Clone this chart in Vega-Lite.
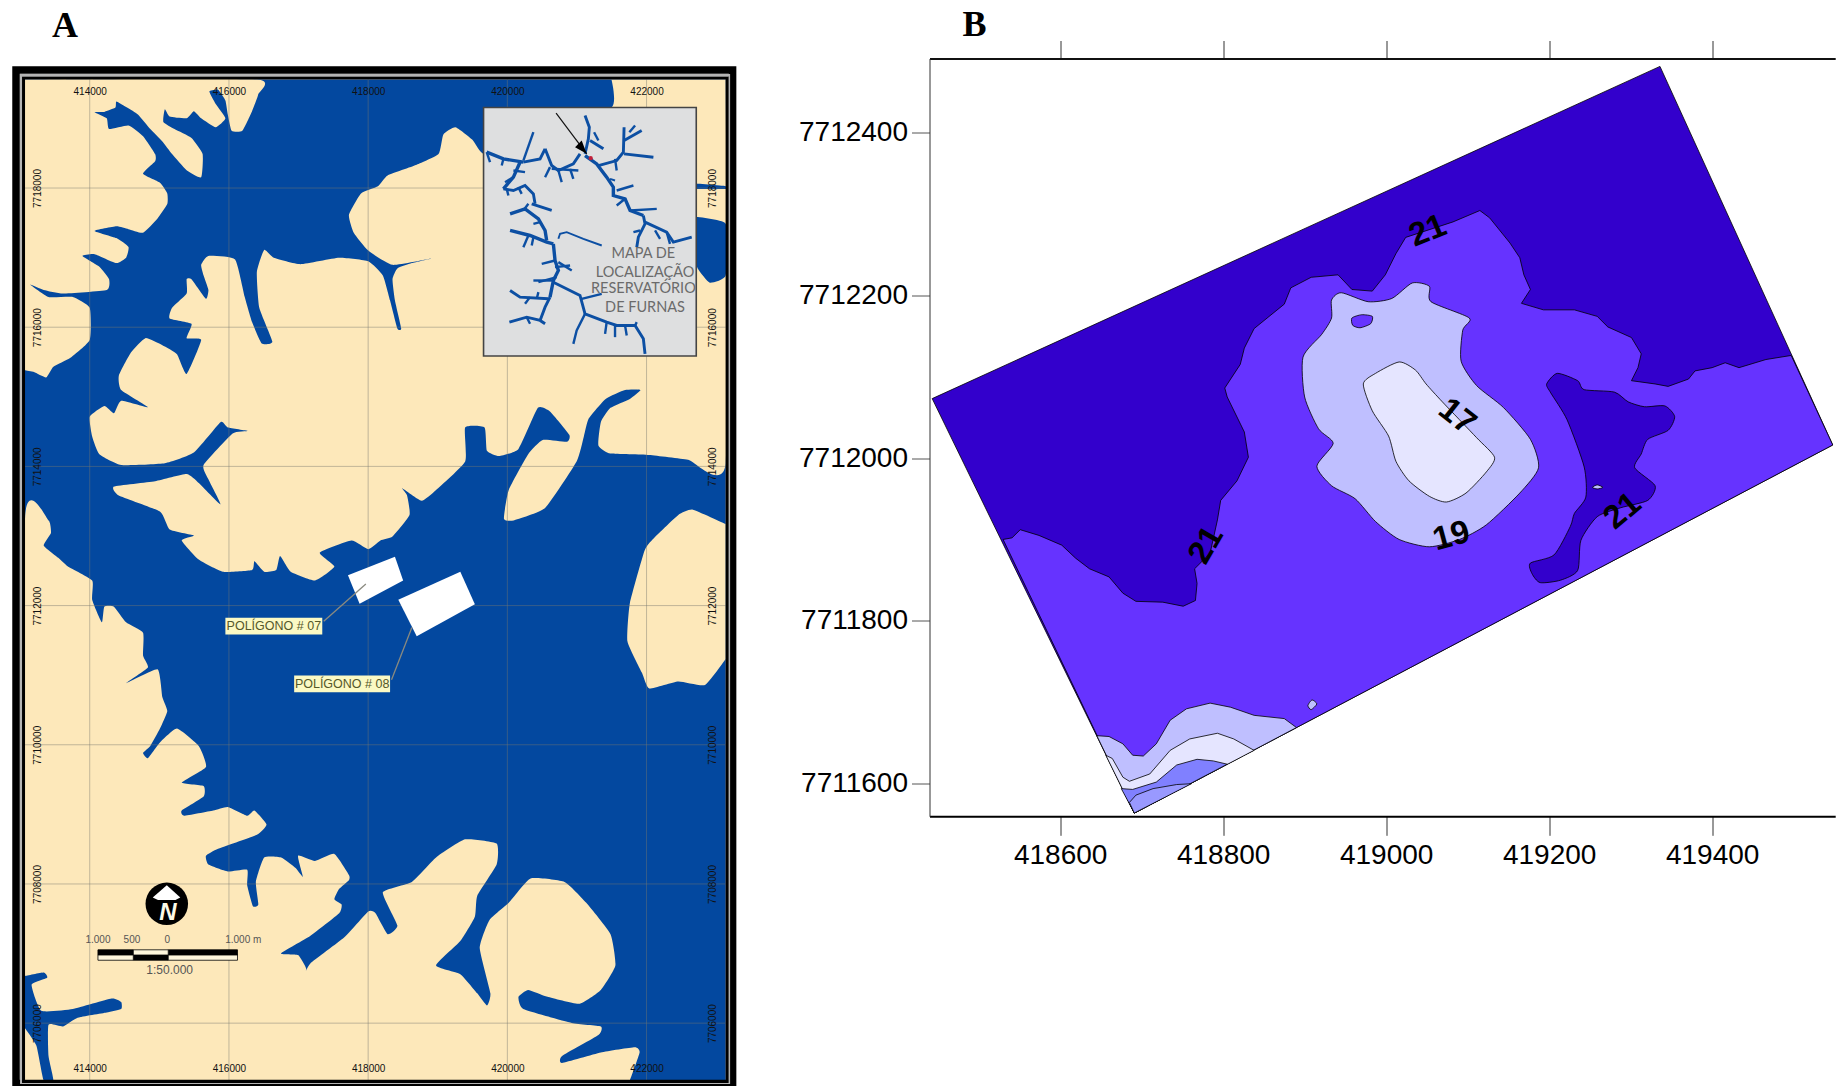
{
"$schema":"https://vega.github.io/schema/vega-lite/v6.json",
"padding":{"left":12,"top":6.5,"right":0,"bottom":0},
"background":"white",
"spacing":60.5,
"align":"none",
"resolve":{"scale":{"fill":"independent"}},
"config":{"view":{"stroke":null},"font":"Liberation Sans"},
"datasets":{
"landA":[
{"p":"L1","x":413070,"y":7719559},{"p":"L1","x":416401,"y":7719559},{"p":"L1","x":416422,"y":7719351},{"p":"L1","x":416332,"y":7719104},{"p":"L1","x":416192,"y":7718822},{"p":"L1","x":416039,"y":7718822},{"p":"L1","x":415984,"y":7719053},{"p":"L1","x":415949,"y":7719258},{"p":"L1","x":415844,"y":7719412},{"p":"L1","x":415719,"y":7719387},{"p":"L1","x":415810,"y":7719207},{"p":"L1","x":415949,"y":7719002},{"p":"L1","x":415810,"y":7718873},{"p":"L1","x":415601,"y":7719002},{"p":"L1","x":415496,"y":7719104},{"p":"L1","x":415392,"y":7719002},{"p":"L1","x":415148,"y":7719027},{"p":"L1","x":415079,"y":7719130},{"p":"L1","x":415058,"y":7718950},{"p":"L1","x":415218,"y":7718847},{"p":"L1","x":415462,"y":7718719},{"p":"L1","x":415622,"y":7718488},{"p":"L1","x":415601,"y":7718154},{"p":"L1","x":415392,"y":7718257},{"p":"L1","x":415183,"y":7718488},{"p":"L1","x":415044,"y":7718668},{"p":"L1","x":414870,"y":7718847},{"p":"L1","x":414696,"y":7719053},{"p":"L1","x":414536,"y":7719156},{"p":"L1","x":414383,"y":7719243},{"p":"L1","x":414369,"y":7719156},{"p":"L1","x":414209,"y":7719094},{"p":"L1","x":414070,"y":7719089},{"p":"L1","x":414244,"y":7719002},{"p":"L1","x":414278,"y":7718847},{"p":"L1","x":414557,"y":7718899},{"p":"L1","x":414766,"y":7718745},{"p":"L1","x":414940,"y":7718488},{"p":"L1","x":414940,"y":7718385},{"p":"L1","x":414766,"y":7718205},{"p":"L1","x":415009,"y":7718077},{"p":"L1","x":415114,"y":7717923},{"p":"L1","x":415114,"y":7717769},{"p":"L1","x":414974,"y":7717563},{"p":"L1","x":414766,"y":7717358},{"p":"L1","x":414557,"y":7717409},{"p":"L1","x":414383,"y":7717450},{"p":"L1","x":414070,"y":7717384},{"p":"L1","x":414383,"y":7717281},{"p":"L1","x":414557,"y":7717153},{"p":"L1","x":414522,"y":7716998},{"p":"L1","x":414383,"y":7716921},{"p":"L1","x":414070,"y":7717050},{"p":"L1","x":413896,"y":7717024},{"p":"L1","x":414139,"y":7716870},{"p":"L1","x":414278,"y":7716690},{"p":"L1","x":414244,"y":7716536},{"p":"L1","x":413617,"y":7716485},{"p":"L1","x":413339,"y":7716536},{"p":"L1","x":413144,"y":7716613},{"p":"L1","x":413408,"y":7716434},{"p":"L1","x":413756,"y":7716434},{"p":"L1","x":414000,"y":7716279},{"p":"L1","x":414000,"y":7715817},{"p":"L1","x":413722,"y":7715560},{"p":"L1","x":413478,"y":7715432},{"p":"L1","x":413374,"y":7715278},{"p":"L1","x":413200,"y":7715355},{"p":"L1","x":413070,"y":7715381},
{"p":"L2","x":423137,"y":7719559},{"p":"L2","x":423137,"y":7714045},{"p":"L2","x":422596,"y":7714097},{"p":"L2","x":422039,"y":7714163},{"p":"L2","x":421482,"y":7714184},{"p":"L2","x":421308,"y":7714302},{"p":"L2","x":421343,"y":7714636},{"p":"L2","x":421482,"y":7714841},{"p":"L2","x":421760,"y":7714970},{"p":"L2","x":421914,"y":7715098},{"p":"L2","x":421691,"y":7715098},{"p":"L2","x":421412,"y":7714970},{"p":"L2","x":421169,"y":7714687},{"p":"L2","x":421099,"y":7714430},{"p":"L2","x":420995,"y":7714071},{"p":"L2","x":420542,"y":7713403},{"p":"L2","x":420090,"y":7713224},{"p":"L2","x":419951,"y":7713249},{"p":"L2","x":420020,"y":7713660},{"p":"L2","x":420299,"y":7714174},{"p":"L2","x":420508,"y":7714379},{"p":"L2","x":420856,"y":7714353},{"p":"L2","x":420890,"y":7714456},{"p":"L2","x":420612,"y":7714790},{"p":"L2","x":420438,"y":7714841},{"p":"L2","x":420160,"y":7714251},{"p":"L2","x":419881,"y":7714148},{"p":"L2","x":419707,"y":7714225},{"p":"L2","x":419672,"y":7714559},{"p":"L2","x":419394,"y":7714559},{"p":"L2","x":419394,"y":7714071},{"p":"L2","x":418976,"y":7713660},{"p":"L2","x":418768,"y":7713506},{"p":"L2","x":418489,"y":7713686},{"p":"L2","x":418559,"y":7713583},{"p":"L2","x":418594,"y":7713301},{"p":"L2","x":418350,"y":7712992},{"p":"L2","x":418176,"y":7712936},{"p":"L2","x":418002,"y":7712811},{"p":"L2","x":417758,"y":7712936},{"p":"L2","x":417306,"y":7712761},{"p":"L2","x":417515,"y":7712561},{"p":"L2","x":417236,"y":7712360},{"p":"L2","x":416888,"y":7712486},{"p":"L2","x":416735,"y":7712711},{"p":"L2","x":416680,"y":7712511},{"p":"L2","x":416506,"y":7712486},{"p":"L2","x":416366,"y":7712636},{"p":"L2","x":416332,"y":7712511},{"p":"L2","x":415914,"y":7712486},{"p":"L2","x":415566,"y":7712661},{"p":"L2","x":415322,"y":7712936},{"p":"L2","x":415496,"y":7713008},{"p":"L2","x":415148,"y":7713095},{"p":"L2","x":415009,"y":7713352},{"p":"L2","x":414418,"y":7713583},{"p":"L2","x":414348,"y":7713711},{"p":"L2","x":414940,"y":7713788},{"p":"L2","x":415392,"y":7713891},{"p":"L2","x":415566,"y":7713763},{"p":"L2","x":415879,"y":7713455},{"p":"L2","x":415705,"y":7713814},{"p":"L2","x":415636,"y":7714020},{"p":"L2","x":416053,"y":7714472},{"p":"L2","x":416276,"y":7714508},{"p":"L2","x":415984,"y":7714559},{"p":"L2","x":415879,"y":7714636},{"p":"L2","x":415496,"y":7714199},{"p":"L2","x":415079,"y":7714045},{"p":"L2","x":414452,"y":7714020},{"p":"L2","x":414139,"y":7714174},{"p":"L2","x":414035,"y":7714430},{"p":"L2","x":414000,"y":7714713},{"p":"L2","x":414209,"y":7714867},{"p":"L2","x":414348,"y":7714764},{"p":"L2","x":414452,"y":7714944},{"p":"L2","x":414835,"y":7714852},{"p":"L2","x":414452,"y":7715098},{"p":"L2","x":414418,"y":7715304},{"p":"L2","x":414592,"y":7715637},{"p":"L2","x":414800,"y":7715843},{"p":"L2","x":415044,"y":7715740},{"p":"L2","x":415253,"y":7715612},{"p":"L2","x":415392,"y":7715329},{"p":"L2","x":415601,"y":7715817},{"p":"L2","x":415392,"y":7715843},{"p":"L2","x":415462,"y":7716048},{"p":"L2","x":415148,"y":7716125},{"p":"L2","x":415183,"y":7716279},{"p":"L2","x":415392,"y":7716485},{"p":"L2","x":415392,"y":7716690},{"p":"L2","x":415462,"y":7716690},{"p":"L2","x":415670,"y":7716408},{"p":"L2","x":415705,"y":7716536},{"p":"L2","x":415636,"y":7716742},{"p":"L2","x":415601,"y":7716896},{"p":"L2","x":415705,"y":7717024},{"p":"L2","x":416088,"y":7716973},{"p":"L2","x":416227,"y":7716434},{"p":"L2","x":416332,"y":7716074},{"p":"L2","x":416471,"y":7715766},{"p":"L2","x":416624,"y":7715792},{"p":"L2","x":416436,"y":7716279},{"p":"L2","x":416401,"y":7716793},{"p":"L2","x":416506,"y":7717111},{"p":"L2","x":416645,"y":7716998},{"p":"L2","x":417028,"y":7716906},{"p":"L2","x":417584,"y":7716998},{"p":"L2","x":418002,"y":7716947},{"p":"L2","x":418211,"y":7716742},{"p":"L2","x":418315,"y":7716382},{"p":"L2","x":418420,"y":7715982},{"p":"L2","x":418475,"y":7715982},{"p":"L2","x":418385,"y":7716382},{"p":"L2","x":418350,"y":7716690},{"p":"L2","x":418420,"y":7716844},{"p":"L2","x":418628,"y":7716921},{"p":"L2","x":418907,"y":7716988},{"p":"L2","x":418350,"y":7716896},{"p":"L2","x":418002,"y":7717101},{"p":"L2","x":417793,"y":7717358},{"p":"L2","x":417724,"y":7717615},{"p":"L2","x":417898,"y":7717923},{"p":"L2","x":418141,"y":7718026},{"p":"L2","x":418280,"y":7718180},{"p":"L2","x":418698,"y":7718334},{"p":"L2","x":419011,"y":7718488},{"p":"L2","x":419081,"y":7718770},{"p":"L2","x":419255,"y":7718873},{"p":"L2","x":419498,"y":7718693},{"p":"L2","x":419672,"y":7718488},{"p":"L2","x":420368,"y":7718642},{"p":"L2","x":421496,"y":7719156},{"p":"L2","x":421496,"y":7719559},
{"p":"L3","x":413070,"y":7705176},{"p":"L3","x":413070,"y":7713249},{"p":"L3","x":413408,"y":7713224},{"p":"L3","x":413443,"y":7713044},{"p":"L3","x":413339,"y":7712864},{"p":"L3","x":413548,"y":7712686},{"p":"L3","x":413687,"y":7712561},{"p":"L3","x":414035,"y":7712360},{"p":"L3","x":414035,"y":7712085},{"p":"L3","x":414174,"y":7711760},{"p":"L3","x":414209,"y":7711985},{"p":"L3","x":414348,"y":7711985},{"p":"L3","x":414522,"y":7711760},{"p":"L3","x":414766,"y":7711610},{"p":"L3","x":414766,"y":7711284},{"p":"L3","x":414835,"y":7711109},{"p":"L3","x":414522,"y":7710884},{"p":"L3","x":414974,"y":7711084},{"p":"L3","x":415044,"y":7710683},{"p":"L3","x":415114,"y":7710483},{"p":"L3","x":415009,"y":7710233},{"p":"L3","x":414870,"y":7709983},{"p":"L3","x":414766,"y":7709882},{"p":"L3","x":414835,"y":7709807},{"p":"L3","x":415009,"y":7710033},{"p":"L3","x":415253,"y":7710233},{"p":"L3","x":415566,"y":7709983},{"p":"L3","x":415670,"y":7709682},{"p":"L3","x":415322,"y":7709457},{"p":"L3","x":415636,"y":7709407},{"p":"L3","x":415636,"y":7709257},{"p":"L3","x":415322,"y":7709056},{"p":"L3","x":415357,"y":7708981},{"p":"L3","x":415775,"y":7709056},{"p":"L3","x":415984,"y":7709107},{"p":"L3","x":416262,"y":7708981},{"p":"L3","x":416366,"y":7709056},{"p":"L3","x":416540,"y":7708856},{"p":"L3","x":416401,"y":7708706},{"p":"L3","x":415844,"y":7708506},{"p":"L3","x":415670,"y":7708406},{"p":"L3","x":415705,"y":7708280},{"p":"L3","x":415984,"y":7708180},{"p":"L3","x":416262,"y":7708205},{"p":"L3","x":416262,"y":7707980},{"p":"L3","x":416345,"y":7707680},{"p":"L3","x":416422,"y":7707705},{"p":"L3","x":416387,"y":7708030},{"p":"L3","x":416506,"y":7708381},{"p":"L3","x":416749,"y":7708381},{"p":"L3","x":416958,"y":7708230},{"p":"L3","x":417062,"y":7708105},{"p":"L3","x":416993,"y":7708406},{"p":"L3","x":417236,"y":7708331},{"p":"L3","x":417515,"y":7708431},{"p":"L3","x":417724,"y":7708130},{"p":"L3","x":417724,"y":7708055},{"p":"L3","x":417584,"y":7707930},{"p":"L3","x":417515,"y":7707780},{"p":"L3","x":417619,"y":7707705},{"p":"L3","x":417584,"y":7707580},{"p":"L3","x":417167,"y":7707254},{"p":"L3","x":416749,"y":7707004},{"p":"L3","x":416993,"y":7706979},{"p":"L3","x":417111,"y":7706779},{"p":"L3","x":417042,"y":7706604},{"p":"L3","x":417167,"y":7706854},{"p":"L3","x":417654,"y":7707229},{"p":"L3","x":418002,"y":7707605},{"p":"L3","x":418106,"y":7707580},{"p":"L3","x":418280,"y":7707279},{"p":"L3","x":418420,"y":7707404},{"p":"L3","x":418211,"y":7707880},{"p":"L3","x":418628,"y":7708030},{"p":"L3","x":418976,"y":7708381},{"p":"L3","x":419394,"y":7708641},{"p":"L3","x":419846,"y":7708581},{"p":"L3","x":419846,"y":7708280},{"p":"L3","x":419568,"y":7707830},{"p":"L3","x":419533,"y":7707530},{"p":"L3","x":419324,"y":7707179},{"p":"L3","x":418976,"y":7706829},{"p":"L3","x":419324,"y":7706704},{"p":"L3","x":419568,"y":7706428},{"p":"L3","x":419707,"y":7706253},{"p":"L3","x":419756,"y":7706428},{"p":"L3","x":419603,"y":7707079},{"p":"L3","x":419742,"y":7707480},{"p":"L3","x":420020,"y":7707730},{"p":"L3","x":420334,"y":7708080},{"p":"L3","x":420821,"y":7708030},{"p":"L3","x":421134,"y":7707730},{"p":"L3","x":421482,"y":7707279},{"p":"L3","x":421552,"y":7706829},{"p":"L3","x":421343,"y":7706478},{"p":"L3","x":421030,"y":7706278},{"p":"L3","x":420577,"y":7706378},{"p":"L3","x":420299,"y":7706478},{"p":"L3","x":420160,"y":7706378},{"p":"L3","x":420229,"y":7706203},{"p":"L3","x":420925,"y":7706003},{"p":"L3","x":421343,"y":7705953},{"p":"L3","x":421308,"y":7705828},{"p":"L3","x":420786,"y":7705527},{"p":"L3","x":420786,"y":7705427},{"p":"L3","x":421343,"y":7705577},{"p":"L3","x":421830,"y":7705652},{"p":"L3","x":421900,"y":7705577},{"p":"L3","x":421760,"y":7705176},
{"p":"L4","x":423137,"y":7711234},{"p":"L4","x":422839,"y":7710859},{"p":"L4","x":422456,"y":7710909},{"p":"L4","x":422039,"y":7710809},{"p":"L4","x":421934,"y":7711034},{"p":"L4","x":421726,"y":7711484},{"p":"L4","x":421760,"y":7712035},{"p":"L4","x":421969,"y":7712786},{"p":"L4","x":422074,"y":7712936},{"p":"L4","x":422456,"y":7713301},{"p":"L4","x":422665,"y":7713378},{"p":"L4","x":423137,"y":7713172},
{"p":"W1","x":422665,"y":7717589},{"p":"W1","x":423137,"y":7717486},{"p":"W1","x":423137,"y":7716742},{"p":"W1","x":422909,"y":7716639},{"p":"W1","x":422735,"y":7716844},{"p":"W1","x":422665,"y":7717101},
{"p":"W2","x":422665,"y":7718067},{"p":"W2","x":423137,"y":7718026},{"p":"W2","x":423137,"y":7717985},{"p":"W2","x":422665,"y":7717985},
{"p":"W3","x":413070,"y":7706679},{"p":"W3","x":413339,"y":7706729},{"p":"W3","x":413388,"y":7706654},{"p":"W3","x":413165,"y":7706553},{"p":"W3","x":413304,"y":7706178},{"p":"W3","x":413756,"y":7706203},{"p":"W3","x":414313,"y":7706353},{"p":"W3","x":414452,"y":7706303},{"p":"W3","x":414452,"y":7706203},{"p":"W3","x":414244,"y":7706153},{"p":"W3","x":413826,"y":7706078},{"p":"W3","x":413617,"y":7705953},{"p":"W3","x":413408,"y":7705978},{"p":"W3","x":413408,"y":7705527},{"p":"W3","x":413478,"y":7705176},{"p":"W3","x":413339,"y":7705176},{"p":"W3","x":413234,"y":7705677},{"p":"W3","x":413070,"y":7705928}
],
"whiteA":[
{"p":"P7","x":417710,"y":7712436},{"p":"P7","x":418385,"y":7712701},{"p":"P7","x":418503,"y":7712360},{"p":"P7","x":417877,"y":7712025},
{"p":"P8","x":418433,"y":7712085},{"p":"P8","x":419324,"y":7712486},{"p":"P8","x":419533,"y":7712020},{"p":"P8","x":418698,"y":7711559}
],
"rivers":[
{"r":"r1","k":"a","x":421116,"y":7718467},{"r":"r1","k":"a","x":421284,"y":7718347},{"r":"r1","k":"a","x":421427,"y":7718156},{"r":"r1","k":"a","x":421523,"y":7718012},{"r":"r1","k":"a","x":421523,"y":7717892},{"r":"r1","k":"a","x":421691,"y":7717845},{"r":"r1","k":"a","x":421763,"y":7717677},{"r":"r1","k":"a","x":421954,"y":7717605},
{"r":"r2","k":"b","x":421116,"y":7719042},{"r":"r2","k":"b","x":421178,"y":7718874},{"r":"r2","k":"b","x":421164,"y":7718707},{"r":"r2","k":"b","x":421116,"y":7718491},
{"r":"r3","k":"b","x":421188,"y":7718683},{"r":"r3","k":"b","x":421380,"y":7718563},
{"r":"r4","k":"b","x":421308,"y":7718323},{"r":"r4","k":"b","x":421571,"y":7718395},{"r":"r4","k":"b","x":421667,"y":7718515},{"r":"r4","k":"b","x":421677,"y":7718874},
{"r":"r5","k":"b","x":421677,"y":7718683},{"r":"r5","k":"b","x":421930,"y":7718826},
{"r":"r6","k":"b","x":421677,"y":7718491},{"r":"r6","k":"b","x":422098,"y":7718443},
{"r":"r7","k":"b","x":421954,"y":7717605},{"r":"r7","k":"b","x":421978,"y":7717485},{"r":"r7","k":"b","x":421882,"y":7717294},{"r":"r7","k":"b","x":421859,"y":7717150},
{"r":"r8","k":"b","x":421978,"y":7717509},{"r":"r8","k":"b","x":422289,"y":7717366},{"r":"r8","k":"b","x":422385,"y":7717222},{"r":"r8","k":"b","x":422649,"y":7717294},
{"r":"r9","k":"c","x":421571,"y":7717964},{"r":"r9","k":"c","x":421811,"y":7718036},
{"r":"r10","k":"c","x":421763,"y":7717677},{"r":"r10","k":"c","x":422146,"y":7717701},
{"r":"r11","k":"a","x":419703,"y":7718515},{"r":"r11","k":"a","x":419943,"y":7718419},{"r":"r11","k":"a","x":420230,"y":7718371},
{"r":"r12","k":"b","x":420230,"y":7718371},{"r":"r12","k":"b","x":420470,"y":7718419},{"r":"r12","k":"b","x":420542,"y":7718563},
{"r":"r13","k":"a","x":420182,"y":7718371},{"r":"r13","k":"a","x":420087,"y":7718156},{"r":"r13","k":"a","x":419943,"y":7717988},
{"r":"r14","k":"b","x":419943,"y":7717988},{"r":"r14","k":"b","x":420087,"y":7717964},{"r":"r14","k":"b","x":420254,"y":7718036},{"r":"r14","k":"b","x":420374,"y":7717916},{"r":"r14","k":"b","x":420398,"y":7717773},
{"r":"r15","k":"c","x":420230,"y":7718395},{"r":"r15","k":"c","x":420374,"y":7718802},
{"r":"r16","k":"b","x":420542,"y":7718563},{"r":"r16","k":"b","x":420637,"y":7718323},{"r":"r16","k":"b","x":420733,"y":7718252},{"r":"r16","k":"b","x":420948,"y":7718347},{"r":"r16","k":"b","x":421044,"y":7718491},
{"r":"r17","k":"c","x":420637,"y":7718276},{"r":"r17","k":"c","x":421020,"y":7718252},
{"r":"r18","k":"c","x":420613,"y":7718300},{"r":"r18","k":"c","x":420542,"y":7718156},
{"r":"r19","k":"c","x":420733,"y":7718252},{"r":"r19","k":"c","x":420781,"y":7718084},
{"r":"r20","k":"c","x":420901,"y":7718276},{"r":"r20","k":"c","x":420948,"y":7718132},
{"r":"r21","k":"a","x":420039,"y":7717629},{"r":"r21","k":"a","x":420254,"y":7717701},{"r":"r21","k":"a","x":420446,"y":7717557},{"r":"r21","k":"a","x":420542,"y":7717390},{"r":"r21","k":"a","x":420565,"y":7717246},
{"r":"r22","k":"b","x":420350,"y":7717773},{"r":"r22","k":"b","x":420637,"y":7717677},
{"r":"r23","k":"a","x":420039,"y":7717390},{"r":"r23","k":"a","x":420326,"y":7717318},{"r":"r23","k":"a","x":420565,"y":7717222},{"r":"r23","k":"a","x":420661,"y":7717198},
{"r":"r24","k":"d","x":420733,"y":7717270},{"r":"r24","k":"d","x":420757,"y":7717342},{"r":"r24","k":"d","x":420853,"y":7717366},{"r":"r24","k":"d","x":421092,"y":7717270},{"r":"r24","k":"d","x":421356,"y":7717174},
{"r":"r25","k":"a","x":420661,"y":7717198},{"r":"r25","k":"a","x":420685,"y":7716959},{"r":"r25","k":"a","x":420733,"y":7716815},{"r":"r25","k":"a","x":420661,"y":7716671},{"r":"r25","k":"a","x":420613,"y":7716432},
{"r":"r26","k":"b","x":420613,"y":7716432},{"r":"r26","k":"b","x":420542,"y":7716288},{"r":"r26","k":"b","x":420470,"y":7716097},
{"r":"r27","k":"c","x":420685,"y":7716959},{"r":"r27","k":"c","x":420494,"y":7716911},
{"r":"r28","k":"c","x":420733,"y":7716935},{"r":"r28","k":"c","x":420925,"y":7716815},
{"r":"r29","k":"c","x":420661,"y":7716671},{"r":"r29","k":"c","x":420374,"y":7716671},
{"r":"r30","k":"b","x":420661,"y":7716647},{"r":"r30","k":"b","x":421044,"y":7716456},{"r":"r30","k":"b","x":421116,"y":7716192},{"r":"r30","k":"b","x":421427,"y":7716073},{"r":"r30","k":"b","x":421571,"y":7716025},{"r":"r30","k":"b","x":421835,"y":7716025},{"r":"r30","k":"b","x":421954,"y":7715833},{"r":"r30","k":"b","x":421978,"y":7715618},
{"r":"r31","k":"c","x":421068,"y":7716408},{"r":"r31","k":"c","x":421356,"y":7716480},
{"r":"r32","k":"c","x":421116,"y":7716192},{"r":"r32","k":"c","x":420996,"y":7715953},{"r":"r32","k":"c","x":420948,"y":7715761},
{"r":"r33","k":"b","x":420039,"y":7716528},{"r":"r33","k":"b","x":420182,"y":7716432},{"r":"r33","k":"b","x":420589,"y":7716408},
{"r":"r34","k":"b","x":420029,"y":7716073},{"r":"r34","k":"b","x":420278,"y":7716144},{"r":"r34","k":"b","x":420470,"y":7716097},{"r":"r34","k":"b","x":420542,"y":7716049},
{"r":"r35","k":"c","x":421547,"y":7716025},{"r":"r35","k":"c","x":421547,"y":7715857},
{"r":"t1","k":"c","x":419703,"y":7718515},{"r":"t1","k":"c","x":419751,"y":7718371},
{"r":"t2","k":"c","x":419943,"y":7718419},{"r":"t2","k":"c","x":419919,"y":7718323},
{"r":"t3","k":"c","x":420087,"y":7718156},{"r":"t3","k":"c","x":419967,"y":7718084},
{"r":"t4","k":"c","x":420087,"y":7718252},{"r":"t4","k":"c","x":420254,"y":7718228},
{"r":"t5","k":"c","x":419991,"y":7717988},{"r":"t5","k":"c","x":420015,"y":7717892},
{"r":"t6","k":"c","x":420158,"y":7718012},{"r":"t6","k":"c","x":420206,"y":7717916},
{"r":"t7","k":"c","x":420230,"y":7717677},{"r":"t7","k":"c","x":420302,"y":7717773},
{"r":"t8","k":"c","x":420470,"y":7717509},{"r":"t8","k":"c","x":420374,"y":7717485},
{"r":"t9","k":"c","x":420302,"y":7717318},{"r":"t9","k":"c","x":420230,"y":7717150},
{"r":"t10","k":"c","x":420374,"y":7717294},{"r":"t10","k":"c","x":420350,"y":7717174},
{"r":"t13","k":"c","x":420685,"y":7716863},{"r":"t13","k":"c","x":420901,"y":7716887},
{"r":"t14","k":"c","x":420709,"y":7716719},{"r":"t14","k":"c","x":420446,"y":7716647},
{"r":"t16","k":"c","x":420326,"y":7716432},{"r":"t16","k":"c","x":420254,"y":7716336},
{"r":"t17","k":"c","x":420422,"y":7716408},{"r":"t17","k":"c","x":420446,"y":7716504},
{"r":"t18","k":"c","x":420278,"y":7716144},{"r":"t18","k":"c","x":420326,"y":7716049},
{"r":"t19","k":"c","x":421427,"y":7716073},{"r":"t19","k":"c","x":421404,"y":7715905},
{"r":"t20","k":"c","x":421691,"y":7716025},{"r":"t20","k":"c","x":421715,"y":7715881},
{"r":"t21","k":"c","x":421835,"y":7716025},{"r":"t21","k":"c","x":421859,"y":7716073},
{"r":"t22","k":"c","x":421246,"y":7718802},{"r":"t22","k":"c","x":421308,"y":7718683},
{"r":"t23","k":"c","x":421753,"y":7718802},{"r":"t23","k":"c","x":421835,"y":7718898},
{"r":"t24","k":"c","x":421547,"y":7718419},{"r":"t24","k":"c","x":421571,"y":7718252},
{"r":"t25","k":"c","x":421691,"y":7717845},{"r":"t25","k":"c","x":421571,"y":7717749},
{"r":"t26","k":"c","x":422122,"y":7717390},{"r":"t26","k":"c","x":422194,"y":7717270},
{"r":"t27","k":"c","x":422289,"y":7717366},{"r":"t27","k":"c","x":422337,"y":7717198},
{"r":"t28","k":"c","x":421906,"y":7717390},{"r":"t28","k":"c","x":421811,"y":7717366},
{"r":"u1","k":"d","x":421475,"y":7718132},{"r":"u1","k":"d","x":421547,"y":7718108},
{"r":"u2","k":"d","x":421643,"y":7717859},{"r":"u2","k":"d","x":421715,"y":7717830}
],
"contours":[
{"p":"OUT","x":419336,"y":7712481},{"p":"OUT","x":419548,"y":7712016},{"p":"OUT","x":418691,"y":7711564},{"p":"OUT","x":418443,"y":7712073},{"p":"OUT","x":419336,"y":7712481},
{"p":"MID","x":418530,"y":7711900},{"p":"MID","x":418541,"y":7711902},{"p":"MID","x":418551,"y":7711912},{"p":"MID","x":418574,"y":7711905},{"p":"MID","x":418602,"y":7711893},{"p":"MID","x":418619,"y":7711877},{"p":"MID","x":418636,"y":7711864},{"p":"MID","x":418660,"y":7711854},{"p":"MID","x":418677,"y":7711834},{"p":"MID","x":418693,"y":7711824},{"p":"MID","x":418726,"y":7711823},{"p":"MID","x":418751,"y":7711818},{"p":"MID","x":418766,"y":7711825},{"p":"MID","x":418768,"y":7711846},{"p":"MID","x":418765,"y":7711864},{"p":"MID","x":418784,"y":7711883},{"p":"MID","x":418793,"y":7711924},{"p":"MID","x":418797,"y":7711948},{"p":"MID","x":418817,"y":7711972},{"p":"MID","x":418831,"y":7712001},{"p":"MID","x":418826,"y":7712032},{"p":"MID","x":418805,"y":7712075},{"p":"MID","x":418802,"y":7712086},{"p":"MID","x":418821,"y":7712115},{"p":"MID","x":418826,"y":7712135},{"p":"MID","x":418838,"y":7712159},{"p":"MID","x":418875,"y":7712189},{"p":"MID","x":418883,"y":7712209},{"p":"MID","x":418908,"y":7712222},{"p":"MID","x":418941,"y":7712225},{"p":"MID","x":418958,"y":7712207},{"p":"MID","x":418983,"y":7712205},{"p":"MID","x":418999,"y":7712225},{"p":"MID","x":419012,"y":7712251},{"p":"MID","x":419024,"y":7712271},{"p":"MID","x":419082,"y":7712290},{"p":"MID","x":419115,"y":7712304},{"p":"MID","x":419127,"y":7712295},{"p":"MID","x":419152,"y":7712264},{"p":"MID","x":419164,"y":7712246},{"p":"MID","x":419169,"y":7712225},{"p":"MID","x":419177,"y":7712207},{"p":"MID","x":419166,"y":7712190},{"p":"MID","x":419193,"y":7712182},{"p":"MID","x":419231,"y":7712182},{"p":"MID","x":419259,"y":7712174},{"p":"MID","x":419272,"y":7712161},{"p":"MID","x":419301,"y":7712148},{"p":"MID","x":419313,"y":7712128},{"p":"MID","x":419309,"y":7712111},{"p":"MID","x":419301,"y":7712095},{"p":"MID","x":419330,"y":7712091},{"p":"MID","x":419346,"y":7712088},{"p":"MID","x":419371,"y":7712097},{"p":"MID","x":419379,"y":7712107},{"p":"MID","x":419400,"y":7712111},{"p":"MID","x":419416,"y":7712117},{"p":"MID","x":419433,"y":7712111},{"p":"MID","x":419466,"y":7712121},{"p":"MID","x":419497,"y":7712126},{"p":"MID","x":419548,"y":7712016},{"p":"MID","x":418691,"y":7711564},{"p":"MID","x":418530,"y":7711900},
{"p":"DI","x":419197,"y":7712091},{"p":"DI","x":419210,"y":7712104},{"p":"DI","x":419235,"y":7712095},{"p":"DI","x":419243,"y":7712084},{"p":"DI","x":419280,"y":7712081},{"p":"DI","x":419297,"y":7712069},{"p":"DI","x":419317,"y":7712063},{"p":"DI","x":419342,"y":7712064},{"p":"DI","x":419354,"y":7712051},{"p":"DI","x":419346,"y":7712034},{"p":"DI","x":419321,"y":7712023},{"p":"DI","x":419313,"y":7712005},{"p":"DI","x":419305,"y":7711988},{"p":"DI","x":419330,"y":7711966},{"p":"DI","x":419321,"y":7711948},{"p":"DI","x":419288,"y":7711939},{"p":"DI","x":419259,"y":7711928},{"p":"DI","x":419239,"y":7711899},{"p":"DI","x":419235,"y":7711862},{"p":"DI","x":419214,"y":7711850},{"p":"DI","x":419189,"y":7711847},{"p":"DI","x":419179,"y":7711858},{"p":"DI","x":419177,"y":7711871},{"p":"DI","x":419206,"y":7711881},{"p":"DI","x":419226,"y":7711916},{"p":"DI","x":419231,"y":7711932},{"p":"DI","x":419245,"y":7711952},{"p":"DI","x":419243,"y":7711989},{"p":"DI","x":419222,"y":7712047},{"p":"DI","x":419202,"y":7712080},
{"p":"LT","x":418945,"y":7712203},{"p":"LT","x":418978,"y":7712192},{"p":"LT","x":419007,"y":7712196},{"p":"LT","x":419032,"y":7712215},{"p":"LT","x":419053,"y":7712211},{"p":"LT","x":419055,"y":7712192},{"p":"LT","x":419102,"y":7712172},{"p":"LT","x":419094,"y":7712157},{"p":"LT","x":419092,"y":7712119},{"p":"LT","x":419111,"y":7712089},{"p":"LT","x":419144,"y":7712062},{"p":"LT","x":419177,"y":7712023},{"p":"LT","x":419187,"y":7711988},{"p":"LT","x":419164,"y":7711957},{"p":"LT","x":419123,"y":7711918},{"p":"LT","x":419090,"y":7711900},{"p":"LT","x":419053,"y":7711891},{"p":"LT","x":419016,"y":7711900},{"p":"LT","x":418987,"y":7711922},{"p":"LT","x":418962,"y":7711950},{"p":"LT","x":418933,"y":7711966},{"p":"LT","x":418915,"y":7711990},{"p":"LT","x":418935,"y":7712018},{"p":"LT","x":418917,"y":7712036},{"p":"LT","x":418900,"y":7712075},{"p":"LT","x":418898,"y":7712124},{"p":"LT","x":418921,"y":7712152},{"p":"LT","x":418933,"y":7712172},{"p":"LT","x":418933,"y":7712194},
{"p":"HO","x":418958,"y":7712172},{"p":"HO","x":418970,"y":7712176},{"p":"HO","x":418983,"y":7712174},{"p":"HO","x":418981,"y":7712165},{"p":"HO","x":418968,"y":7712160},{"p":"HO","x":418959,"y":7712163},
{"p":"LL","x":419016,"y":7712118},{"p":"LL","x":419036,"y":7712108},{"p":"LL","x":419049,"y":7712091},{"p":"LL","x":419069,"y":7712069},{"p":"LL","x":419111,"y":7712025},{"p":"LL","x":419133,"y":7712001},{"p":"LL","x":419123,"y":7711983},{"p":"LL","x":419098,"y":7711957},{"p":"LL","x":419074,"y":7711946},{"p":"LL","x":419053,"y":7711953},{"p":"LL","x":419028,"y":7711972},{"p":"LL","x":419012,"y":7711996},{"p":"LL","x":419003,"y":7712027},{"p":"LL","x":418983,"y":7712058},{"p":"LL","x":418972,"y":7712091},{"p":"LL","x":418987,"y":7712104},
{"p":"SP","x":419253,"y":7711964},{"p":"SP","x":419259,"y":7711967},{"p":"SP","x":419266,"y":7711964},{"p":"SP","x":419259,"y":7711962},
{"p":"EL","x":418909,"y":7711703},{"p":"EL","x":418915,"y":7711698},{"p":"EL","x":418908,"y":7711691},{"p":"EL","x":418904,"y":7711696},
{"p":"B1","x":418645,"y":7711659},{"p":"B1","x":418660,"y":7711658},{"p":"B1","x":418677,"y":7711649},{"p":"B1","x":418689,"y":7711635},{"p":"B1","x":418702,"y":7711634},{"p":"B1","x":418718,"y":7711649},{"p":"B1","x":418735,"y":7711678},{"p":"B1","x":418755,"y":7711692},{"p":"B1","x":418784,"y":7711699},{"p":"B1","x":418809,"y":7711694},{"p":"B1","x":418838,"y":7711684},{"p":"B1","x":418875,"y":7711680},{"p":"B1","x":418890,"y":7711669},{"p":"B1","x":418691,"y":7711564},{"p":"B1","x":418645,"y":7711659},
{"p":"B2","x":418656,"y":7711635},{"p":"B2","x":418664,"y":7711631},{"p":"B2","x":418677,"y":7711608},{"p":"B2","x":418685,"y":7711603},{"p":"B2","x":418710,"y":7711612},{"p":"B2","x":418735,"y":7711641},{"p":"B2","x":418759,"y":7711655},{"p":"B2","x":418793,"y":7711662},{"p":"B2","x":418813,"y":7711655},{"p":"B2","x":418838,"y":7711641},{"p":"B2","x":418691,"y":7711564},{"p":"B2","x":418656,"y":7711635},
{"p":"B3","x":418675,"y":7711594},{"p":"B3","x":418689,"y":7711593},{"p":"B3","x":418718,"y":7711602},{"p":"B3","x":418743,"y":7711623},{"p":"B3","x":418768,"y":7711630},{"p":"B3","x":418788,"y":7711628},{"p":"B3","x":418805,"y":7711624},{"p":"B3","x":418691,"y":7711564},{"p":"B3","x":418675,"y":7711594},
{"p":"B4","x":418685,"y":7711577},{"p":"B4","x":418693,"y":7711586},{"p":"B4","x":418714,"y":7711594},{"p":"B4","x":418743,"y":7711599},{"p":"B4","x":418761,"y":7711600},{"p":"B4","x":418691,"y":7711564},{"p":"B4","x":418685,"y":7711577}
]
},
"hconcat":[
{
"width":700.7,"height":1022,
"title":{"text":"A","anchor":"start","frame":"group","dx":27,"offset":14,"font":"Liberation Serif","fontSize":36,"fontWeight":"bold","color":"#000"},
"resolve":{"axis":{"x":"independent","y":"independent"}},
"layer":[
{"data":{"values":[{"x":413070,"x2":423137,"y":7705176,"y2":7719559}]},"mark":{"type":"rect","color":"#03489f"},
"encoding":{"x":{"field":"x","type":"quantitative","scale":{"domain":[413070,423137],"nice":false,"zero":false},"axis":{"orient":"top","values":[414000,416000,418000,420000,422000],"format":"d","title":null,"grid":false,"domain":false,"ticks":false,"tickSize":0,"labelPadding":-33,"labelBaseline":"middle","labelFontSize":10,"labelColor":"#111","labelFlush":false,"labelOverlap":false,"labelBound":false,"zindex":1}},"x2":{"field":"x2"},"y":{"field":"y","type":"quantitative","scale":{"domain":[7705176,7719861],"nice":false,"zero":false},"axis":{"orient":"left","values":[7706000,7708000,7710000,7712000,7714000,7716000,7718000],"format":"d","title":null,"grid":false,"domain":false,"ticks":false,"tickSize":0,"labelPadding":-12,"labelAngle":270,"labelAlign":"center","labelBaseline":"middle","labelFontSize":10,"labelColor":"#111","labelFlush":false,"labelOverlap":false,"labelBound":false,"zindex":1}},"y2":{"field":"y2"}}},
{"data":{"name":"landA"},"mark":{"type":"line","strokeWidth":0,"interpolate":"cardinal","tension":0.55},
"encoding":{"x":{"field":"x","type":"quantitative","scale":{"domain":[413070,423137],"nice":false,"zero":false},"axis":null},"y":{"field":"y","type":"quantitative","scale":{"domain":[7705176,7719861],"nice":false,"zero":false},"axis":null},"order":{"value":null},"fill":{"field":"p","type":"nominal","legend":null,"scale":{"domain":["L1","L2","L3","L4","W1","W2","W3"],"range":["#fde8ba","#fde8ba","#fde8ba","#fde8ba","#03489f","#03489f","#03489f"]}}}},
{"data":{"values":[{"x":414000,"y":7705176,"y2":7719559},{"x":416000,"y":7705176,"y2":7719559},{"x":418000,"y":7705176,"y2":7719559},{"x":420000,"y":7705176,"y2":7719559},{"x":422000,"y":7705176,"y2":7719559}]},"mark":{"type":"rule","color":"#77786f","opacity":0.45,"strokeWidth":1},
"encoding":{"x":{"field":"x","type":"quantitative","scale":{"domain":[413070,423137],"nice":false,"zero":false},"axis":null},"y":{"field":"y","type":"quantitative","scale":{"domain":[7705176,7719861],"nice":false,"zero":false},"axis":null},"y2":{"field":"y2"}}},
{"data":{"values":[{"y":7706000,"x":413070,"x2":423137},{"y":7708000,"x":413070,"x2":423137},{"y":7710000,"x":413070,"x2":423137},{"y":7712000,"x":413070,"x2":423137},{"y":7714000,"x":413070,"x2":423137},{"y":7716000,"x":413070,"x2":423137},{"y":7718000,"x":413070,"x2":423137}]},"mark":{"type":"rule","color":"#77786f","opacity":0.45,"strokeWidth":1},
"encoding":{"x":{"field":"x","type":"quantitative","scale":{"domain":[413070,423137],"nice":false,"zero":false},"axis":null},"x2":{"field":"x2"},"y":{"field":"y","type":"quantitative","scale":{"domain":[7705176,7719861],"nice":false,"zero":false},"axis":null}}},
{"data":{"name":"whiteA"},"mark":{"type":"line","strokeWidth":0,"fill":"#ffffff"},
"encoding":{"x":{"field":"x","type":"quantitative","scale":{"domain":[413070,423137],"nice":false,"zero":false},"axis":null},"y":{"field":"y","type":"quantitative","scale":{"domain":[7705176,7719861],"nice":false,"zero":false},"axis":null},"order":{"value":null},"detail":{"field":"p"}}},
{"data":{"values":[{"p":"c7","x":417967,"y":7712310},{"p":"c7","x":417362,"y":7711775},{"p":"c8","x":418628,"y":7711685},{"p":"c8","x":418336,"y":7710934}]},"mark":{"type":"line","color":"#8a8a80","strokeWidth":1.3},
"encoding":{"x":{"field":"x","type":"quantitative","scale":{"domain":[413070,423137],"nice":false,"zero":false},"axis":null},"y":{"field":"y","type":"quantitative","scale":{"domain":[7705176,7719861],"nice":false,"zero":false},"axis":null},"order":{"value":null},"detail":{"field":"p"}}},
{"data":{"values":[{"x":415949,"x2":417341,"y":7711585,"y2":7711825},{"x":416937,"x2":418315,"y":7710754,"y2":7710994}]},"mark":{"type":"rect","color":"#fbf9c4"},
"encoding":{"x":{"field":"x","type":"quantitative","scale":{"domain":[413070,423137],"nice":false,"zero":false},"axis":null},"x2":{"field":"x2"},"y":{"field":"y","type":"quantitative","scale":{"domain":[7705176,7719861],"nice":false,"zero":false},"axis":null},"y2":{"field":"y2"}}},
{"data":{"values":[{"x":416645,"y":7711705,"t":"POLÍGONO # 07"},{"x":417626,"y":7710874,"t":"POLÍGONO # 08"}]},"mark":{"type":"text","fontSize":12.5,"color":"#55582a","align":"center","baseline":"middle"},
"encoding":{"x":{"field":"x","type":"quantitative","scale":{"domain":[413070,423137],"nice":false,"zero":false},"axis":null},"y":{"field":"y","type":"quantitative","scale":{"domain":[7705176,7719861],"nice":false,"zero":false},"axis":null},"text":{"field":"t"}}},
{"data":{"values":[{"x":419658,"x2":422714,"y":7715586,"y2":7719156}]},"mark":{"type":"rect","fill":"#dedfe0","stroke":"#444","strokeWidth":1.6},
"encoding":{"x":{"field":"x","type":"quantitative","scale":{"domain":[413070,423137],"nice":false,"zero":false},"axis":null},"x2":{"field":"x2"},"y":{"field":"y","type":"quantitative","scale":{"domain":[7705176,7719861],"nice":false,"zero":false},"axis":null},"y2":{"field":"y2"}}},
{"data":{"name":"rivers"},"mark":{"type":"line","color":"#0c4fa3"},
"encoding":{"x":{"field":"x","type":"quantitative","scale":{"domain":[413070,423137],"nice":false,"zero":false},"axis":null},"y":{"field":"y","type":"quantitative","scale":{"domain":[7705176,7719861],"nice":false,"zero":false},"axis":null},"order":{"value":null},"detail":{"field":"r"},"strokeWidth":{"field":"k","type":"nominal","legend":null,"scale":{"domain":["a","b","c","d"],"range":[3.4,1.9,0.9,6.5]}}}},
{"data":{"values":[{"x":420700,"y":7719075},{"x":421140,"y":7718491}]},"mark":{"type":"line","color":"#111","strokeWidth":1.2},
"encoding":{"x":{"field":"x","type":"quantitative","scale":{"domain":[413070,423137],"nice":false,"zero":false},"axis":null},"y":{"field":"y","type":"quantitative","scale":{"domain":[7705176,7719861],"nice":false,"zero":false},"axis":null},"order":{"value":null}}},
{"data":{"values":[{"x":421140,"y":7718491},{"x":420973,"y":7718587},{"x":421068,"y":7718683}]},"mark":{"type":"line","strokeWidth":0,"fill":"#000"},
"encoding":{"x":{"field":"x","type":"quantitative","scale":{"domain":[413070,423137],"nice":false,"zero":false},"axis":null},"y":{"field":"y","type":"quantitative","scale":{"domain":[7705176,7719861],"nice":false,"zero":false},"axis":null},"order":{"value":null}}},
{"data":{"values":[{"x":421198,"y":7718429}]},"mark":{"type":"circle","size":18,"color":"#c0203a","opacity":1},
"encoding":{"x":{"field":"x","type":"quantitative","scale":{"domain":[413070,423137],"nice":false,"zero":false},"axis":null},"y":{"field":"y","type":"quantitative","scale":{"domain":[7705176,7719861],"nice":false,"zero":false},"axis":null}}},
{"data":{"values":[{"x":421954,"y":7717059,"t":"MAPA DE"},{"x":421978,"y":7716786,"t":"LOCALIZAÇÃO"},{"x":421954,"y":7716542,"t":"RESERVATÓRIO"},{"x":421978,"y":7716283,"t":"DE FURNAS"}]},"mark":{"type":"text","font":"Lato","fontSize":14.5,"color":"#6b6b6b","align":"center","baseline":"middle"},
"encoding":{"x":{"field":"x","type":"quantitative","scale":{"domain":[413070,423137],"nice":false,"zero":false},"axis":null},"y":{"field":"y","type":"quantitative","scale":{"domain":[7705176,7719861],"nice":false,"zero":false},"axis":null},"text":{"field":"t"}}},
{"data":{"values":[{"x":415107,"y":7707715}]},"mark":{"type":"circle","size":1810,"color":"#000","opacity":1},
"encoding":{"x":{"field":"x","type":"quantitative","scale":{"domain":[413070,423137],"nice":false,"zero":false},"axis":null},"y":{"field":"y","type":"quantitative","scale":{"domain":[7705176,7719861],"nice":false,"zero":false},"axis":null}}},
{"data":{"values":[{"x":415107,"y":7707980},{"x":415301,"y":7707805},{"x":415232,"y":7707770},{"x":414981,"y":7707770},{"x":414905,"y":7707805}]},"mark":{"type":"line","strokeWidth":0,"fill":"#fff"},
"encoding":{"x":{"field":"x","type":"quantitative","scale":{"domain":[413070,423137],"nice":false,"zero":false},"axis":null},"y":{"field":"y","type":"quantitative","scale":{"domain":[7705176,7719861],"nice":false,"zero":false},"axis":null},"order":{"value":null}}},
{"data":{"values":[{"x":415125,"y":7707580,"t":"N"}]},"mark":{"type":"text","fontSize":24,"fontWeight":"bold","fontStyle":"italic","color":"#fdfbe8","align":"center","baseline":"middle"},
"encoding":{"x":{"field":"x","type":"quantitative","scale":{"domain":[413070,423137],"nice":false,"zero":false},"axis":null},"y":{"field":"y","type":"quantitative","scale":{"domain":[7705176,7719861],"nice":false,"zero":false},"axis":null},"text":{"field":"t"}}},
{"data":{"values":[{"x":414118,"x2":414626,"y":7706979,"y2":7707054},{"x":415128,"x2":416123,"y":7706979,"y2":7707054},{"x":414626,"x2":415128,"y":7706904,"y2":7706979}]},"mark":{"type":"rect","fill":"#000","stroke":"#000","strokeWidth":0.8},
"encoding":{"x":{"field":"x","type":"quantitative","scale":{"domain":[413070,423137],"nice":false,"zero":false},"axis":null},"x2":{"field":"x2"},"y":{"field":"y","type":"quantitative","scale":{"domain":[7705176,7719861],"nice":false,"zero":false},"axis":null},"y2":{"field":"y2"}}},
{"data":{"values":[{"x":414626,"x2":415128,"y":7706979,"y2":7707054},{"x":414118,"x2":414626,"y":7706904,"y2":7706979},{"x":415128,"x2":416123,"y":7706904,"y2":7706979}]},"mark":{"type":"rect","fill":"#fdf6dc","stroke":"#000","strokeWidth":0.8},
"encoding":{"x":{"field":"x","type":"quantitative","scale":{"domain":[413070,423137],"nice":false,"zero":false},"axis":null},"x2":{"field":"x2"},"y":{"field":"y","type":"quantitative","scale":{"domain":[7705176,7719861],"nice":false,"zero":false},"axis":null},"y2":{"field":"y2"}}},
{"data":{"values":[{"x":414118,"y":7707189,"t":"1.000"},{"x":414606,"y":7707189,"t":"500"},{"x":415114,"y":7707189,"t":"0"},{"x":416206,"y":7707189,"t":"1.000 m"}]},"mark":{"type":"text","fontSize":10,"color":"#555","align":"center","baseline":"middle"},
"encoding":{"x":{"field":"x","type":"quantitative","scale":{"domain":[413070,423137],"nice":false,"zero":false},"axis":null},"y":{"field":"y","type":"quantitative","scale":{"domain":[7705176,7719861],"nice":false,"zero":false},"axis":null},"text":{"field":"t"}}},
{"data":{"values":[{"x":415148,"y":7706764,"t":"1:50.000"}]},"mark":{"type":"text","fontSize":12,"color":"#555","align":"center","baseline":"middle"},
"encoding":{"x":{"field":"x","type":"quantitative","scale":{"domain":[413070,423137],"nice":false,"zero":false},"axis":null},"y":{"field":"y","type":"quantitative","scale":{"domain":[7705176,7719861],"nice":false,"zero":false},"axis":null},"text":{"field":"t"}}},
{"data":{"values":[{"x":412941,"x2":423236,"y":7705133,"y2":7719695}]},"mark":{"type":"rect","fill":"transparent","stroke":"#000","strokeWidth":7.5},
"encoding":{"x":{"field":"x","type":"quantitative","scale":{"domain":[413070,423137],"nice":false,"zero":false},"axis":null},"x2":{"field":"x2"},"y":{"field":"y","type":"quantitative","scale":{"domain":[7705176,7719861],"nice":false,"zero":false},"axis":null},"y2":{"field":"y2"}}},
{"data":{"values":[{"x":413013,"x2":423186,"y":7705141,"y2":7719624}]},"mark":{"type":"rect","fill":"transparent","stroke":"#b4b4b4","strokeWidth":2},
"encoding":{"x":{"field":"x","type":"quantitative","scale":{"domain":[413070,423137],"nice":false,"zero":false},"axis":null},"x2":{"field":"x2"},"y":{"field":"y","type":"quantitative","scale":{"domain":[7705176,7719861],"nice":false,"zero":false},"axis":null},"y2":{"field":"y2"}}},
{"data":{"values":[{"x":413049,"x2":423157,"y":7705162,"y2":7719581}]},"mark":{"type":"rect","fill":"transparent","stroke":"#000","strokeWidth":3},
"encoding":{"x":{"field":"x","type":"quantitative","scale":{"domain":[413070,423137],"nice":false,"zero":false},"axis":{"orient":"bottom","values":[414000,416000,418000,420000,422000],"format":"d","title":null,"grid":false,"domain":false,"ticks":false,"tickSize":0,"labelPadding":-12,"labelBaseline":"middle","labelFontSize":10,"labelColor":"#111","labelFlush":false,"labelOverlap":false,"labelBound":false,"zindex":1}},"x2":{"field":"x2"},"y":{"field":"y","type":"quantitative","scale":{"domain":[7705176,7719861],"nice":false,"zero":false},"axis":{"orient":"right","values":[7706000,7708000,7710000,7712000,7714000,7716000,7718000],"format":"d","title":null,"grid":false,"domain":false,"ticks":false,"tickSize":0,"labelPadding":-13,"labelAngle":270,"labelAlign":"center","labelBaseline":"middle","labelFontSize":10,"labelColor":"#111","labelFlush":false,"labelOverlap":false,"labelBound":false,"zindex":1}},"y2":{"field":"y2"}}}
]
},
{
"width":905.7,"height":757.8,
"title":{"text":"B","anchor":"start","frame":"group","dx":33,"offset":-4,"font":"Liberation Serif","fontSize":36,"fontWeight":"bold","color":"#000"},
"resolve":{"axis":{"x":"independent","y":"independent"}},
"layer":[
{"data":{"name":"contours"},"transform":[{"filter":"indexof(['OUT','MID'],datum.p)>=0"}],"mark":{"type":"line","stroke":"#000","strokeWidth":0.8},
"encoding":{"x":{"field":"x","type":"quantitative","scale":{"domain":[418439.7,419551],"nice":false,"zero":false},"axis":{"orient":"top","values":[418600,418800,419000,419200,419400],"labels":false,"title":null,"grid":false,"domainColor":"#111","domainWidth":2,"tickColor":"#333","tickWidth":1,"tickSize":18}},
"y":{"field":"y","type":"quantitative","scale":{"domain":[7711560,7712490.7],"nice":false,"zero":false},"axis":{"orient":"left","values":[7711600,7711800,7712000,7712200,7712400],"format":"d","title":null,"grid":false,"domainColor":"#333","domainWidth":1,"tickColor":"#555","tickWidth":1,"tickSize":18,"labelFontSize":28,"labelColor":"#000","labelPadding":4,"labelFlush":false,"labelOverlap":false}},
"order":{"value":null},
"fill":{"field":"p","type":"nominal","legend":null,"scale":{"domain":["OUT","MID","DI","LT","HO","LL","SP","EL","B1","B2","B3","B4"],"range":["#3300cc","#6633ff","#3300cc","#bfbfff","#6633ff","#e5e5ff","#bfbfff","#bfbfff","#bfbfff","#e5e5ff","#8080ff","#9999ff"]}}}},
{"data":{"name":"contours"},"transform":[{"filter":"indexof(['DI','LT','HO','LL','SP','EL'],datum.p)>=0"}],"mark":{"type":"line","stroke":"#000","strokeWidth":0.8,"interpolate":"cardinal-closed","tension":0.3},
"encoding":{"x":{"field":"x","type":"quantitative","scale":{"domain":[418439.7,419551],"nice":false,"zero":false},"axis":null},"y":{"field":"y","type":"quantitative","scale":{"domain":[7711560,7712490.7],"nice":false,"zero":false},"axis":null},"order":{"value":null},
"fill":{"field":"p","type":"nominal","legend":null,"scale":{"domain":["OUT","MID","DI","LT","HO","LL","SP","EL","B1","B2","B3","B4"],"range":["#3300cc","#6633ff","#3300cc","#bfbfff","#6633ff","#e5e5ff","#bfbfff","#bfbfff","#bfbfff","#e5e5ff","#8080ff","#9999ff"]}}}},
{"data":{"name":"contours"},"transform":[{"filter":"indexof(['B1','B2','B3','B4'],datum.p)>=0"}],"mark":{"type":"line","stroke":"#000","strokeWidth":0.8},
"encoding":{"x":{"field":"x","type":"quantitative","scale":{"domain":[418439.7,419551],"nice":false,"zero":false},"axis":null},"y":{"field":"y","type":"quantitative","scale":{"domain":[7711560,7712490.7],"nice":false,"zero":false},"axis":null},"order":{"value":null},
"fill":{"field":"p","type":"nominal","legend":null,"scale":{"domain":["OUT","MID","DI","LT","HO","LL","SP","EL","B1","B2","B3","B4"],"range":["#3300cc","#6633ff","#3300cc","#bfbfff","#6633ff","#e5e5ff","#bfbfff","#bfbfff","#bfbfff","#e5e5ff","#8080ff","#9999ff"]}}}},
{"data":{"values":[{"x":419051,"y":7712279,"t":"21"}]},"mark":{"type":"text","fontSize":33,"fontWeight":"bold","angle":338,"color":"#000","align":"center","baseline":"middle"},
"encoding":{"x":{"field":"x","type":"quantitative","scale":{"domain":[418439.7,419551],"nice":false,"zero":false},"axis":{"orient":"bottom","values":[418600,418800,419000,419200,419400],"format":"d","title":null,"grid":false,"domainColor":"#000","domainWidth":2,"tickColor":"#333","tickWidth":1,"tickSize":19,"labelFontSize":28,"labelColor":"#000","labelPadding":6,"labelFlush":false,"labelOverlap":false}},"y":{"field":"y","type":"quantitative","scale":{"domain":[7711560,7712490.7],"nice":false,"zero":false},"axis":null},"text":{"field":"t"}}},
{"data":{"values":[{"x":419087,"y":7712051,"t":"17"}]},"mark":{"type":"text","fontSize":33,"fontWeight":"bold","angle":38,"color":"#000","align":"center","baseline":"middle"},
"encoding":{"x":{"field":"x","type":"quantitative","scale":{"domain":[418439.7,419551],"nice":false,"zero":false},"axis":null},"y":{"field":"y","type":"quantitative","scale":{"domain":[7711560,7712490.7],"nice":false,"zero":false},"axis":null},"text":{"field":"t"}}},
{"data":{"values":[{"x":419080,"y":7711904,"t":"19"}]},"mark":{"type":"text","fontSize":33,"fontWeight":"bold","angle":345,"color":"#000","align":"center","baseline":"middle"},
"encoding":{"x":{"field":"x","type":"quantitative","scale":{"domain":[418439.7,419551],"nice":false,"zero":false},"axis":null},"y":{"field":"y","type":"quantitative","scale":{"domain":[7711560,7712490.7],"nice":false,"zero":false},"axis":null},"text":{"field":"t"}}},
{"data":{"values":[{"x":418779,"y":7711893,"t":"21"}]},"mark":{"type":"text","fontSize":33,"fontWeight":"bold","angle":300,"color":"#000","align":"center","baseline":"middle"},
"encoding":{"x":{"field":"x","type":"quantitative","scale":{"domain":[418439.7,419551],"nice":false,"zero":false},"axis":null},"y":{"field":"y","type":"quantitative","scale":{"domain":[7711560,7712490.7],"nice":false,"zero":false},"axis":null},"text":{"field":"t"}}},
{"data":{"values":[{"x":419290,"y":7711935,"t":"21"}]},"mark":{"type":"text","fontSize":33,"fontWeight":"bold","angle":320,"color":"#000","align":"center","baseline":"middle"},
"encoding":{"x":{"field":"x","type":"quantitative","scale":{"domain":[418439.7,419551],"nice":false,"zero":false},"axis":null},"y":{"field":"y","type":"quantitative","scale":{"domain":[7711560,7712490.7],"nice":false,"zero":false},"axis":null},"text":{"field":"t"}}}
]
}
]
}
